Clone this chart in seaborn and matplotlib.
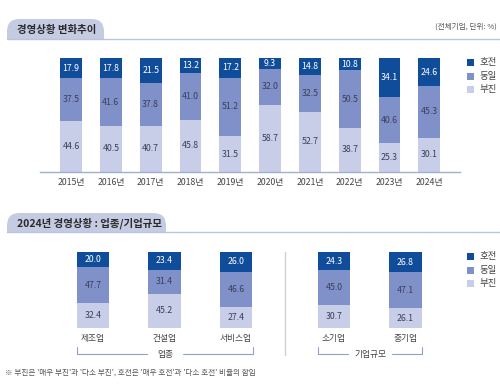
import pandas as pd
import seaborn as sns
import matplotlib.pyplot as plt
from matplotlib.patches import FancyBboxPatch, Rectangle
from matplotlib.lines import Line2D

# Data
years = ['2015년', '2016년', '2017년', '2018년', '2019년',
         '2020년', '2021년', '2022년', '2023년', '2024년']
better = [17.9, 17.8, 21.5, 13.2, 17.2, 9.3, 14.8, 10.8, 34.1, 24.6]
same = [37.5, 41.6, 37.8, 41.0, 51.2, 32.0, 32.5, 50.5, 40.6, 45.3]
worse = [44.6, 40.5, 40.7, 45.8, 31.5, 58.7, 52.7, 38.7, 25.3, 30.1]

industry = ['제조업', '건설업', '서비스업']
ind_better = [20.0, 23.4, 26.0]
ind_same = [47.7, 31.4, 46.6]
ind_worse = [32.4, 45.2, 27.4]

size = ['소기업', '중기업']
size_better = [24.3, 26.8]
size_same = [45.0, 47.1]
size_worse = [30.7, 26.1]

legend_labels = ['호전', '동일', '부진']
colors = ['#0f4c9a', '#8090c8', '#c8cde8']
text_colors = ['white', '#3a3f5c', '#3a3f5c']

sns.set_style('white')
plt.rcParams['font.family'] = ['Noto Sans CJK KR', 'DejaVu Sans']

W, H = 500, 386
fig = plt.figure(figsize=(W / 100, H / 100), dpi=100)


def box(x0, y0, x1, y1):
    # pixel coords with origin top-left -> figure fraction rect
    return [x0 / W, 1 - y1 / H, (x1 - x0) / W, (y1 - y0) / H]


def px(x, y):
    return x / W, 1 - y / H


def stacked(ax, cats, b, s, w, width):
    df = pd.DataFrame({'cat': cats, 'b': b, 's': s, 'w': w})
    df['top'] = df['b'] + df['s'] + df['w']
    df['mid'] = df['s'] + df['w']
    for col, c in zip(['top', 'mid', 'w'], colors):
        sns.barplot(data=df, x='cat', y=col, color=c, width=width,
                    saturation=1, ax=ax, linewidth=0)
    for i, row in df.iterrows():
        ax.text(i, row['w'] + row['s'] + row['b'] / 2, f"{row['b']:.1f}",
                ha='center', va='center', fontsize=6.3, color=text_colors[0])
        ax.text(i, row['w'] + row['s'] / 2, f"{row['s']:.1f}",
                ha='center', va='center', fontsize=6.3, color=text_colors[1])
        ax.text(i, row['w'] / 2, f"{row['w']:.1f}",
                ha='center', va='center', fontsize=6.3, color=text_colors[2])
    ax.set_ylim(0, 100)
    ax.set_xlabel('')
    ax.set_ylabel('')
    ax.set_yticks([])
    ax.tick_params(axis='x', length=0, labelsize=6.3, labelcolor='#444444')
    for sp in ['top', 'left', 'right', 'bottom']:
        ax.spines[sp].set_visible(False)
    ax.patch.set_alpha(0)


def tab(x0, y0, x1, y1, text):
    fig.patches.append(FancyBboxPatch(px(x0, y1), (x1 - x0) / W, (y1 - y0) / H,
                                      boxstyle='round,pad=0,rounding_size=0.025',
                                      transform=fig.transFigure,
                                      facecolor='#c5cbe3', edgecolor='none',
                                      mutation_aspect=W / H))
    fig.patches.append(Rectangle(px(x0, y1), (x1 - x0) / W, (y1 - y0) / 2 / H,
                                 transform=fig.transFigure,
                                 facecolor='#c5cbe3', edgecolor='none'))
    fig.lines.append(Line2D([x0 / W, 1], [1 - y1 / H] * 2, transform=fig.transFigure,
                            color='#b8c4dc', lw=1))
    fig.text(*px(x0 + 10, (y0 + y1) / 2 + 1), text, fontsize=7.5, fontweight='bold',
             color='#2a2a2a', ha='left', va='center')


def legend(x, ys):
    for yy, c, lab in zip(ys, colors, legend_labels):
        fig.patches.append(Rectangle(px(x, yy + 3.5), 7 / W, 7 / H,
                                     transform=fig.transFigure, facecolor=c,
                                     edgecolor='none'))
        fig.text(*px(x + 12, yy), lab, fontsize=6.8, color='#444444',
                 ha='left', va='center')


# top section
tab(7, 19, 104, 39, '경영상황 변화추이')
fig.text(*px(497, 27), '(전체기업, 단위: %)', fontsize=5.5, color='#555555',
         ha='right', va='center')

ax1 = fig.add_axes(box(40, 58, 460, 172))
stacked(ax1, years, better, same, worse, 0.55)
ax1.set_xlim(-0.78, 9.77)
ax1.spines['bottom'].set_visible(True)
ax1.spines['bottom'].set_color('#9fb0cc')
ax1.spines['bottom'].set_linewidth(1)
ax1.tick_params(axis='x', pad=4)
legend(467, [62.5, 76, 89.5])

# bottom section
tab(7, 213, 166, 232, '2024년 경영상황 : 업종/기업규모')

ax2 = fig.add_axes(box(57.25, 252, 271.75, 328))
stacked(ax2, industry, ind_better, ind_same, ind_worse, 0.45)
ax2.set_xlim(-0.5, 2.5)
ax2.tick_params(axis='x', pad=4)

ax3 = fig.add_axes(box(298.25, 252, 441.25, 328))
stacked(ax3, size, size_better, size_same, size_worse, 0.45)
ax3.set_xlim(-0.5, 1.5)
ax3.tick_params(axis='x', pad=4)

legend(467, [256.5, 270, 283.5])

# separator
fig.lines.append(Line2D([285 / W] * 2, [1 - 252 / H, 1 - 355 / H],
                        transform=fig.transFigure, color='#d0d0d0', lw=1))


def bracket(x0, x1, label, gap):
    y = 354
    cx = (x0 + x1) / 2
    for a, b in [(x0, cx - gap / 2), (cx + gap / 2, x1)]:
        fig.lines.append(Line2D([a / W, b / W], [1 - y / H] * 2,
                                transform=fig.transFigure, color='#8fa3c8', lw=0.8))
    for xx in [x0, x1]:
        fig.lines.append(Line2D([xx / W] * 2, [1 - y / H, 1 - (y - 7) / H],
                                transform=fig.transFigure, color='#8fa3c8', lw=0.8))
    fig.text(*px(cx, y), label, fontsize=6.3, color='#444444', ha='center', va='center')


bracket(77, 253, '업종', 36)
bracket(318, 422, '기업규모', 44)

fig.text(*px(5, 373), "※ 부진은 '매우 부진'과 '다소 부진', 호전은 '매우 호전'과 '다소 호전' 비율의 합임",
         fontsize=5.5, color='#555555', ha='left', va='center')

fig.savefig('out.png', dpi=100)
